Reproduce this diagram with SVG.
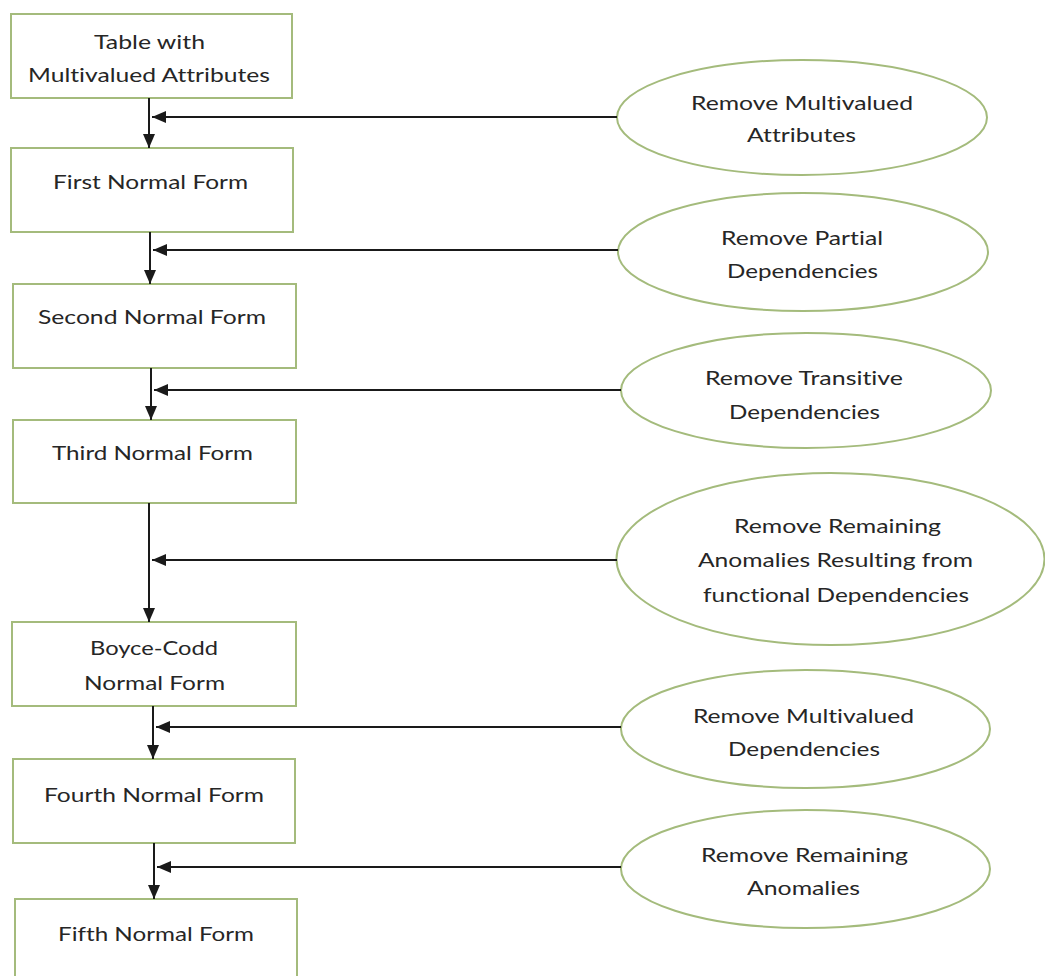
<svg xmlns="http://www.w3.org/2000/svg" width="1045" height="976" viewBox="0 0 1045 976">
  <style>
    .box { fill: #ffffff; stroke: #a4bb7c; stroke-width: 2; }
    .step { fill: #ffffff; stroke: #a4bb7c; stroke-width: 2; }
    .lbl { font-family: Lato, "Open Sans", "Liberation Sans", sans-serif; font-size: 20px; fill: #262626; text-anchor: middle; font-variant-ligatures: none; font-feature-settings: "liga" 0, "clig" 0, "dlig" 0; }
    .wire { fill: none; stroke: #1a1a1a; stroke-width: 2; }
  </style>
  <defs>
    <marker id="head" viewBox="0 0 14 12" refX="14" refY="6" markerWidth="14" markerHeight="12" markerUnits="userSpaceOnUse" orient="auto">
      <path d="M0,0 L14,6 L0,12 Z" fill="#1a1a1a"/>
    </marker>
  </defs>
  <rect width="1045" height="976" fill="#ffffff"/>

  <!-- normal form boxes -->
  <g id="table-multivalued">
    <rect class="box" x="11" y="14" width="281" height="84"/>
    <text class="lbl" x="149.5" y="49" textLength="111" lengthAdjust="spacingAndGlyphs">Table with</text>
    <text class="lbl" x="149" y="82" textLength="242" lengthAdjust="spacingAndGlyphs">Multivalued Attributes</text>
  </g>
  <g id="nf1">
    <rect class="box" x="11" y="148" width="282" height="84"/>
    <text class="lbl" x="150.5" y="189" textLength="195" lengthAdjust="spacingAndGlyphs">First Normal Form</text>
  </g>
  <g id="nf2">
    <rect class="box" x="13" y="284" width="283" height="84"/>
    <text class="lbl" x="152" y="324" textLength="228" lengthAdjust="spacingAndGlyphs">Second Normal Form</text>
  </g>
  <g id="nf3">
    <rect class="box" x="13" y="420" width="283" height="83"/>
    <text class="lbl" x="152.5" y="460" textLength="201" lengthAdjust="spacingAndGlyphs">Third Normal Form</text>
  </g>
  <g id="bcnf">
    <rect class="box" x="12" y="622" width="284" height="84"/>
    <text class="lbl" x="154" y="655" textLength="128" lengthAdjust="spacingAndGlyphs">Boyce-Codd</text>
    <text class="lbl" x="154.5" y="690" textLength="141" lengthAdjust="spacingAndGlyphs">Normal Form</text>
  </g>
  <g id="nf4">
    <rect class="box" x="13" y="759" width="282" height="84"/>
    <text class="lbl" x="154" y="802" textLength="220" lengthAdjust="spacingAndGlyphs">Fourth Normal Form</text>
  </g>
  <g id="nf5">
    <rect class="box" x="15" y="899" width="282" height="84"/>
    <text class="lbl" x="156" y="941" textLength="196" lengthAdjust="spacingAndGlyphs">Fifth Normal Form</text>
  </g>

  <!-- transformation steps -->
  <g id="step-multivalued-attributes">
    <ellipse class="step" cx="802" cy="117.5" rx="185" ry="57.5"/>
    <text class="lbl" x="802" y="110" textLength="222" lengthAdjust="spacingAndGlyphs">Remove Multivalued</text>
    <text class="lbl" x="801.5" y="142" textLength="109" lengthAdjust="spacingAndGlyphs">Attributes</text>
  </g>
  <g id="step-partial">
    <ellipse class="step" cx="803" cy="252" rx="185" ry="59"/>
    <text class="lbl" x="802" y="245" textLength="162" lengthAdjust="spacingAndGlyphs">Remove Partial</text>
    <text class="lbl" x="802.5" y="278" textLength="151" lengthAdjust="spacingAndGlyphs">Dependencies</text>
  </g>
  <g id="step-transitive">
    <ellipse class="step" cx="806" cy="390.5" rx="185" ry="57.5"/>
    <text class="lbl" x="804" y="385" textLength="198" lengthAdjust="spacingAndGlyphs">Remove Transitive</text>
    <text class="lbl" x="804.5" y="419" textLength="151" lengthAdjust="spacingAndGlyphs">Dependencies</text>
  </g>
  <g id="step-functional">
    <ellipse class="step" cx="830.5" cy="559" rx="214" ry="86"/>
    <text class="lbl" x="837.5" y="533" textLength="207" lengthAdjust="spacingAndGlyphs">Remove Remaining</text>
    <text class="lbl" x="835.5" y="567" textLength="275" lengthAdjust="spacingAndGlyphs">Anomalies Resulting from</text>
    <text class="lbl" x="836" y="602" textLength="266" lengthAdjust="spacingAndGlyphs">functional Dependencies</text>
  </g>
  <g id="step-multivalued-dependencies">
    <ellipse class="step" cx="805.5" cy="729" rx="184.5" ry="59"/>
    <text class="lbl" x="803.5" y="723" textLength="221" lengthAdjust="spacingAndGlyphs">Remove Multivalued</text>
    <text class="lbl" x="804" y="756" textLength="152" lengthAdjust="spacingAndGlyphs">Dependencies</text>
  </g>
  <g id="step-remaining">
    <ellipse class="step" cx="805.5" cy="869" rx="184.5" ry="59"/>
    <text class="lbl" x="804.5" y="862" textLength="207" lengthAdjust="spacingAndGlyphs">Remove Remaining</text>
    <text class="lbl" x="803.5" y="895" textLength="113" lengthAdjust="spacingAndGlyphs">Anomalies</text>
  </g>

  <!-- connectors -->
  <g id="connectors">
    <line class="wire" x1="149" y1="98" x2="149" y2="148" marker-end="url(#head)"/>
    <line class="wire" x1="150" y1="232" x2="150" y2="284" marker-end="url(#head)"/>
    <line class="wire" x1="151" y1="368" x2="151" y2="420" marker-end="url(#head)"/>
    <line class="wire" x1="149" y1="503" x2="149" y2="622" marker-end="url(#head)"/>
    <line class="wire" x1="153" y1="706" x2="153" y2="759" marker-end="url(#head)"/>
    <line class="wire" x1="154" y1="843" x2="154" y2="899" marker-end="url(#head)"/>

    <line class="wire" x1="617" y1="117" x2="152" y2="117" marker-end="url(#head)"/>
    <line class="wire" x1="618" y1="250" x2="153" y2="250" marker-end="url(#head)"/>
    <line class="wire" x1="621" y1="390" x2="154" y2="390" marker-end="url(#head)"/>
    <line class="wire" x1="617" y1="560" x2="152" y2="560" marker-end="url(#head)"/>
    <line class="wire" x1="621" y1="727" x2="156" y2="727" marker-end="url(#head)"/>
    <line class="wire" x1="621" y1="867" x2="157" y2="867" marker-end="url(#head)"/>
  </g>
</svg>
